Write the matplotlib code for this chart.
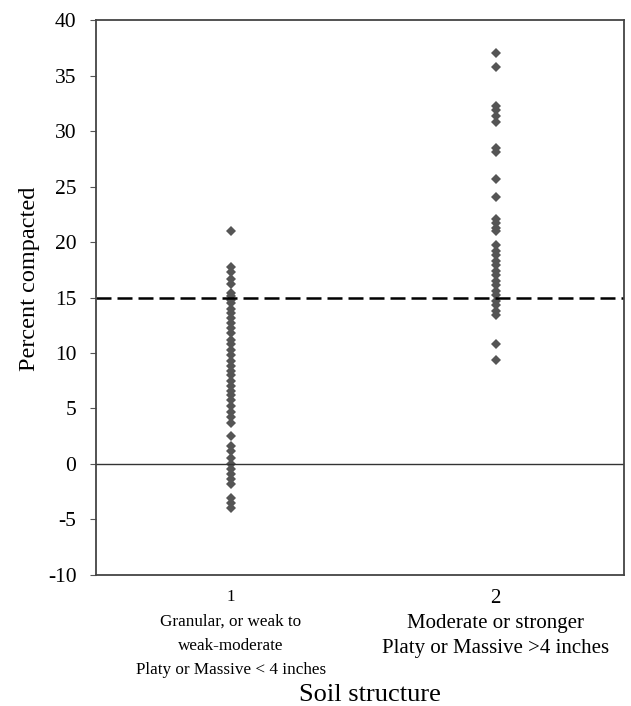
import matplotlib
matplotlib.use("Agg")
import matplotlib.pyplot as plt

plt.rcParams['font.family'] = ['Liberation Serif', 'DejaVu Serif']

groups = [1, 2]
group_labels = ["1\nGranular, or weak to\nweak-moderate\nPlaty or Massive < 4 inches",
                "2\nModerate or stronger\nPlaty or Massive >4 inches"]
g1 = [21.0, 17.8, 17.3, 16.7, 16.2, 15.4, 15.1, 14.8, 14.5, 14.0, 13.6, 13.2,
      12.7, 12.3, 11.8, 11.2, 10.8, 10.3, 9.8, 9.3, 8.8, 8.4, 8.0, 7.5, 7.0,
      6.6, 6.2, 5.8, 5.2, 4.7, 4.2, 3.7, 2.5, 1.6, 1.2, 0.5, 0.0, -0.5, -0.9,
      -1.4, -1.8, -3.1, -3.5, -4.0]
g2 = [37.1, 35.8, 32.3, 31.9, 31.4, 30.8, 28.5, 28.1, 25.7, 24.1, 22.1, 21.7,
      21.3, 21.0, 19.7, 19.2, 18.8, 18.3, 17.9, 17.4, 17.0, 16.5, 16.1, 15.6,
      15.2, 14.7, 14.3, 13.8, 13.4, 10.8, 9.4]
threshold = 15
yticks = list(range(-10, 41, 5))

fig = plt.figure(figsize=(6.31, 7.06), dpi=100, facecolor='white')
ax = fig.add_axes([0.152, 0.186, 0.837, 0.785])

for x, vals in zip(groups, [g1, g2]):
    ax.plot([x] * len(vals), vals, linestyle='none', marker='D', markersize=5,
            color='#555555', markeredgewidth=0)

ax.axhline(threshold, color='black', linestyle=(0, (6, 2.4)), linewidth=1.8)
ax.axhline(0, color='#333333', linewidth=1.0)

ax.set_xlim(0.49, 2.485)
ax.set_ylim(-10, 40)
ax.set_yticks(yticks)
ax.set_yticklabels([str(t) for t in yticks], fontsize=15.5)
ax.set_xticks(groups)
ax.set_xticklabels(group_labels)
# the two category labels are set at different sizes in the original
lbls = ax.get_xticklabels()
lbls[0].set_fontsize(12.3)
lbls[0].set_linespacing(1.72)
lbls[1].set_fontsize(15)
lbls[1].set_linespacing(1.45)
ax.tick_params(axis='y', direction='out', length=4, pad=10, color='#555555')
ax.tick_params(axis='x', direction='out', length=0, pad=10)
ax.set_ylabel("Percent compacted", fontsize=17.5)
ax.yaxis.set_label_coords(-0.105, 0.534)
ax.set_xlabel("Soil structure", fontsize=19)
ax.xaxis.set_label_coords(0.519, -0.198)
for s in ax.spines.values():
    s.set_linewidth(1.3)
    s.set_color('#444444')

fig.savefig("out.png", dpi=100)
